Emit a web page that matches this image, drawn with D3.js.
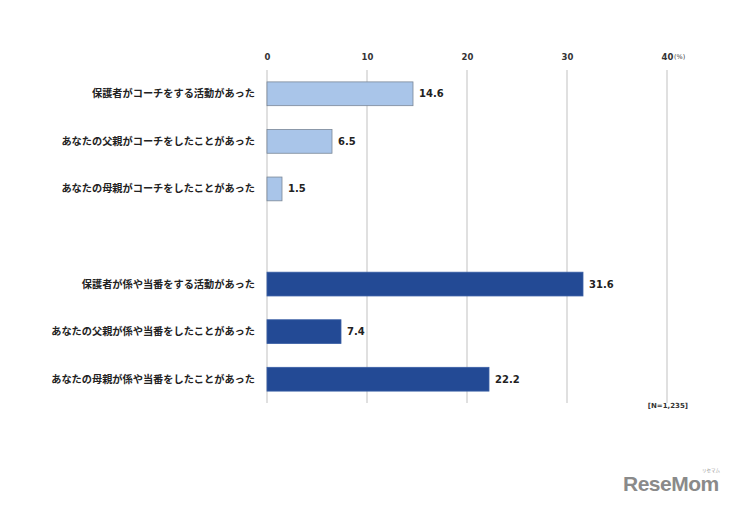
<!DOCTYPE html>
<html><head><meta charset="utf-8">
<script src="https://cdn.jsdelivr.net/npm/d3@7"></script>
<style>body{margin:0;background:#fff;}svg{display:block;}</style>
</head><body>
<svg id="c" width="734" height="505"></svg>
<script>
const categories = [
  "保護者がコーチをする活動があった",
  "あなたの父親がコーチをしたことがあった",
  "あなたの母親がコーチをしたことがあった",
  "",
  "保護者が係や当番をする活動があった",
  "あなたの父親が係や当番をしたことがあった",
  "あなたの母親が係や当番をしたことがあった"
];
const values = [14.6, 6.5, 1.5, null, 31.6, 7.4, 22.2];
const groups = ["coach","coach","coach",null,"duty","duty","duty"];
const tickValues = [0, 10, 20, 30, 40];
const note = "[N=1,235]";

const svg = d3.select("#c");
const x = d3.scaleLinear().domain([0, 40]).range([267, 667]);
const y = d3.scaleBand().domain(d3.range(categories.length)).range([70, 403]).paddingInner(0.5).paddingOuter(0.25);
const fill = {coach: "#A9C5E9", duty: "#234A95"};
const stroke = {coach: "#7A8797", duty: "#3A5FA5"};
const latin = "'DejaVu Sans', Verdana, sans-serif";
const jp = "'Noto Sans CJK JP', sans-serif";

// gridlines
svg.append("g").selectAll("line").data(tickValues).join("line")
  .attr("x1", d => x(d)).attr("x2", d => x(d))
  .attr("y1", 70).attr("y2", 403)
  .attr("stroke", "#d0d0d0").attr("stroke-width", 1.3);

// top axis labels
const ax = svg.append("g").attr("transform", "translate(0,60)")
  .call(d3.axisTop(x).tickValues(tickValues).tickSize(0).tickPadding(0));
ax.select(".domain").remove();
ax.selectAll("text").attr("font-family", latin).attr("font-weight", "bold")
  .attr("font-size", 8.5).attr("fill", "#333");
svg.append("text").attr("x", x(40) + 5).attr("y", 59).text("(%)")
  .attr("font-family", latin).attr("font-size", 6.5).attr("fill", "#444")
  .attr("dx", 2);

// bars
const idx = d3.range(categories.length).filter(i => values[i] !== null);
svg.append("g").selectAll("rect").data(idx).join("rect")
  .attr("x", x(0)).attr("y", i => y(i))
  .attr("width", i => x(values[i]) - x(0)).attr("height", y.bandwidth())
  .attr("fill", i => fill[groups[i]])
  .attr("stroke", i => stroke[groups[i]]).attr("stroke-width", 0.8);

// value labels
svg.append("g").selectAll("text").data(idx).join("text")
  .attr("x", i => x(values[i]) + 6).attr("y", i => y(i) + y.bandwidth() / 2)
  .attr("dy", "0.35em").text(i => values[i].toFixed(1))
  .attr("font-family", latin).attr("font-weight", "bold").attr("font-size", 10)
  .attr("fill", "#222");

// category labels
svg.append("g").selectAll("text").data(idx).join("text")
  .attr("x", 255).attr("y", i => y(i) + y.bandwidth() / 2)
  .attr("dy", "0.35em").attr("text-anchor", "end").text(i => categories[i])
  .attr("font-family", jp).attr("font-weight", "bold").attr("font-size", 10.2)
  .attr("fill", "#222");

// note
svg.append("text").attr("x", 688).attr("y", 408).attr("text-anchor", "end").text(note)
  .attr("font-family", latin).attr("font-weight", "bold").attr("font-size", 7).attr("fill", "#333");

// logo
svg.append("text").attr("x", 623).attr("y", 491).text("ReseMom")
  .attr("font-family", "'Liberation Sans', Arial, sans-serif").attr("font-weight", "bold")
  .attr("font-size", 21).attr("fill", "#8a8a8a").attr("letter-spacing", -0.5);
svg.append("text").attr("x", 702).attr("y", 472).text("リセマム")
  .attr("font-family", jp).attr("font-size", 4.5).attr("fill", "#999");
</script>
</body></html>
